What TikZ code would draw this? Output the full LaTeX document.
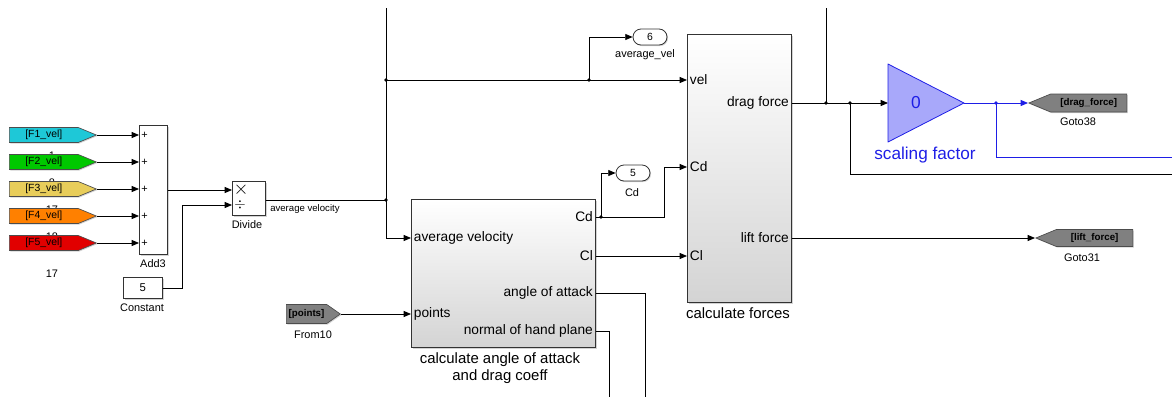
\documentclass[tikz,border=0pt]{standalone}
\usepackage{fontspec}
\setmainfont{Liberation Sans}
\usetikzlibrary{positioning,arrows.meta,shapes.symbols,shadows}
\definecolor{tagcyan}{RGB}{30,200,215}
\definecolor{taggreen}{RGB}{0,200,0}
\definecolor{tagyellow}{RGB}{232,205,90}
\definecolor{tagorange}{RGB}{255,128,0}
\definecolor{tagred}{RGB}{225,0,0}
\definecolor{taggray}{RGB}{128,128,128}
\definecolor{gainblue}{RGB}{30,30,230}
\definecolor{gainfill}{RGB}{168,168,250}
\newcommand{\px}[1]{#1*0.75pt}
\tikzset{
  blk/.style={draw=black!80, fill=white, line width=0.6pt, inner sep=0pt,
              anchor=north west,
              drop shadow={shadow xshift=1.3pt,shadow yshift=-1.3pt,opacity=.35}},
  subsys/.style={blk, top color=white, bottom color=black!17},
  tag/.style={signal, signal to=east, signal pointer angle=45, draw=black!70,
              line width=0.5pt, inner sep=0pt, anchor=west,
              minimum width=\px{87}, minimum height=\px{15},
              font=\fontsize{7.8}{8}\selectfont,
              drop shadow={shadow xshift=0.8pt,shadow yshift=-0.8pt,opacity=.35}},
  gototag/.style={tag, signal to=west, fill=taggray,
                  font=\fontsize{7.3}{8}\selectfont\bfseries},
  oport/.style={draw=black!80, fill=white, rounded corners=6pt, line width=0.6pt,
                minimum width=\px{34}, minimum height=\px{16}, inner sep=0pt,
                font=\fontsize{7.8}{8}\selectfont,
                drop shadow={shadow xshift=0.8pt,shadow yshift=-0.8pt,opacity=.35}},
  sig/.style={->, line width=0.6pt},
  wire/.style={line width=0.6pt},
  bsig/.style={sig, color=gainblue},
  jdot/.style={circle, fill, inner sep=0pt, minimum size=2.8pt},
  portlbl/.style={inner sep=2pt, font=\fontsize{10.3}{11}\selectfont},
  lbl/.style={inner sep=0pt, font=\fontsize{8.2}{9}\selectfont},
  title/.style={inner sep=0pt, align=center, font=\fontsize{11.2}{12.75}\selectfont},
}

\begin{document}
\begin{tikzpicture}[x=0.75pt, y=-0.75pt, >={Triangle[length=5.5pt,width=4.5pt]}]
\useasboundingbox (0,0) rectangle (1172,397);

% blocks
\node[blk, minimum width=\px{28}, minimum height=\px{129}] (add) at (139,125) {};
\node[lbl] (addlab) at (153,264) {Add3};
\node[blk, minimum width=\px{33}, minimum height=\px{34}] (div) at (232,181) {};
\node[lbl] (divlab) at (247,225) {Divide};
\node[blk, minimum width=\px{39}, minimum height=\px{21}, font=\fontsize{8.5}{9}\selectfont] (const) at (123,277) {5};
\node[lbl] (constlab) at (142,308) {Constant};
\node[subsys, minimum width=\px{184}, minimum height=\px{148}] (ang) at (411,199) {};
\node[title] (angtitle) at (500,368) {calculate angle of attack\\and drag coeff};
\node[subsys, minimum width=\px{104}, minimum height=\px{268}] (fc) at (687,34) {};
\node[title] (fctitle) at (738,313) {calculate forces};

% ports
\coordinate (div-in1) at (div.west |- 0,190);
\coordinate (div-in2) at (div.west |- 0,205);
\coordinate (div-out) at (div.east |- 0,200);
\coordinate (ang-avg) at (ang.west |- 0,238);
\coordinate (ang-pts) at (ang.west |- 0,314);
\coordinate (ang-cd) at (ang.east |- 0,217);
\coordinate (ang-cl) at (ang.east |- 0,256);
\coordinate (ang-aoa) at (ang.east |- 0,293);
\coordinate (ang-nrm) at (ang.east |- 0,331);
\coordinate (fc-vel) at (fc.west |- 0,80);
\coordinate (fc-cd) at (fc.west |- 0,167);
\coordinate (fc-cl) at (fc.west |- 0,256);
\coordinate (fc-drag) at (fc.east |- 0,103);
\coordinate (fc-lift) at (fc.east |- 0,238);

\node[lbl, anchor=west, font=\fontsize{14}{14}\selectfont] (times) at ([xshift=1pt]div-in1) {$\times$};
\node[lbl, anchor=west, font=\fontsize{11}{11}\selectfont] (divide) at ([xshift=1.5pt]div-in2) {$\div$};
\node[portlbl, anchor=west] (pavg) at (ang-avg) {average velocity};
\node[portlbl, anchor=west] (ppts) at (ang-pts) {points};
\node[portlbl, anchor=east] (pcd) at (ang-cd) {Cd};
\node[portlbl, anchor=east] (pcl) at (ang-cl) {Cl};
\node[portlbl, anchor=east] (paoa) at (ang-aoa) {angle of attack};
\node[portlbl, anchor=east] (pnrm) at (ang-nrm) {normal of hand plane};
\node[portlbl, anchor=west] (pvel) at (fc-vel) {vel};
\node[portlbl, anchor=west] (pcd2) at (fc-cd) {Cd};
\node[portlbl, anchor=west] (pcl2) at (fc-cl) {Cl};
\node[portlbl, anchor=east] (pdrag) at (fc-drag) {drag force};
\node[portlbl, anchor=east] (plift) at (fc-lift) {lift force};

% velocity tags, leftover labels half hidden under them
\foreach \y/\t [count=\i] in {156/1,183/8,210/17,237/18,274/17}
  \node[lbl] (tlab\i) at (52,\y) {\t};
\foreach \c [count=\i] in {tagcyan,taggreen,tagyellow,tagorange,tagred}{
  \node[tag, fill=\c] (f\i) at (9,108+27*\i) {[F\i\_vel]};
  \draw[sig] (f\i.east) -- (add.west |- f\i.east);
  \node[lbl, anchor=west] (plus\i) at ([xshift=1.5pt]add.west |- f\i.east) {+};
}

\draw[sig] (add.east |- div-in1) -- (div-in1);
\draw[sig] (const.east) -- ++(20,0) |- (div-in2);

% average velocity
\coordinate (topA) at (386,8);
\coordinate (j1) at (386,200);
\coordinate (j0) at (386,80);
\coordinate (jv) at (589,80);
\draw[wire] (div-out) -- (j1);
\node[lbl, anchor=west, font=\fontsize{7.2}{8}\selectfont] (avglab) at (270,209) {average velocity};
\draw[sig] (topA) |- (ang-avg);
\draw[sig] (j0) -- (fc-vel);
\node[oport] (out6) at (650,37) {6};
\node[lbl] (out6lab) at (645,55) {average\_vel};
\draw[sig] (jv) |- (out6.west);
\node[jdot] (d1) at (j1) {};
\node[jdot] (d0) at (j0) {};
\node[jdot] (dv) at (jv) {};

\node[gototag, signal to=east, signal pointer angle=70, anchor=west,
      minimum width=\px{54}, minimum height=\px{19}] (from10) at (286,314) {[points]};
\node[lbl] (from10lab) at (313,335) {From10};
\draw[sig] (from10.east) -- (ang-pts);

% drag coefficient
\coordinate (jc) at (601,217);
\node[oport] (out5) at (633,173) {5};
\node[lbl] (out5lab) at (632,193) {Cd};
\draw[wire] (ang-cd) -- (jc);
\draw[sig] (jc) |- (out5.west);
\draw[sig] (jc) -- ++(63,0) |- (fc-cd);
\node[jdot] (dc) at (jc) {};
\draw[sig] (ang-cl) -- (fc-cl);

\coordinate (botA) at (645,397);
\coordinate (botN) at (609,397);
\draw[wire] (ang-aoa) -| (botA);
\draw[wire] (ang-nrm) -| (botN);

% forces
\coordinate (topB) at (826,8);
\coordinate (jd1) at (826,103);
\coordinate (jd2) at (850,103);
\coordinate (edgeB) at (1172,174);
\coordinate (gin) at (888,103);
\coordinate (gout) at (964,103);
\draw[wire] (topB) -- (jd1);
\draw[sig] (fc-drag) -- (gin);
\draw[wire] (jd2) |- (edgeB);
\node[jdot] (dd1) at (jd1) {};
\node[jdot] (dd2) at (jd2) {};

\draw[draw=gainblue, fill=gainfill, line width=0.6pt, line join=round]
  (gin |- 0,64) -- (gout) -- (gin |- 0,142) -- cycle;
\node[text=gainblue, font=\fontsize{13}{14}\selectfont] (gain) at (916,103) {0};
\node[text=gainblue, font=\fontsize{12.9}{14}\selectfont] (gainlab) at (925,155) {scaling factor};

\node[gototag, minimum width=\px{98}, minimum height=\px{18}] (goto38) at (1028,103) {[drag\_force]};
\node[lbl] (goto38lab) at (1078,122) {Goto38};
\coordinate (jb) at (996,103);
\coordinate (edgeC) at (1172,157);
\draw[bsig] (gout) -- (goto38.west);
\draw[wire, gainblue] (jb) |- (edgeC);
\node[jdot, gainblue] (db) at (jb) {};

\node[gototag, minimum width=\px{97}, minimum height=\px{17}] (goto31) at (1035,238) {[lift\_force]};
\node[lbl] (goto31lab) at (1082,258) {Goto31};
\draw[sig] (fc-lift) -- (goto31.west);
\end{tikzpicture}
\end{document}
